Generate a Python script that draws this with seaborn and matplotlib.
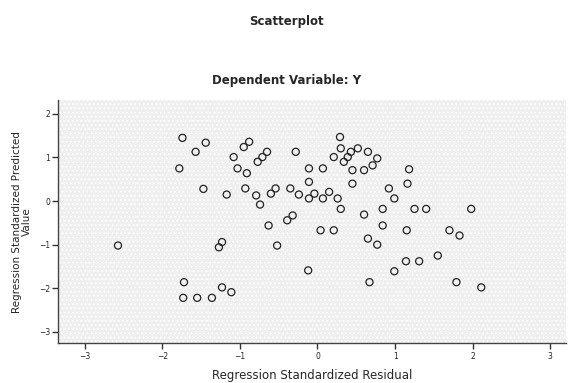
import matplotlib

matplotlib.use("Agg")
import matplotlib.pyplot as plt
import pandas as pd
import seaborn as sns
from matplotlib.patches import Rectangle

# Regression standardized residual (x) and predicted value (y)
residual = [
    -1.74, -1.44, -1.57, -1.78, -1.47, -1.17, -1.08, -0.95, -0.88, -0.77,
    -0.71, -0.65, -1.03, -0.91, -0.93, -0.79, -0.74, -0.60, -0.54, -0.35,
    -0.24, -0.11, -0.04, 0.07, 0.15, -0.11, -0.11, 0.07, -0.28, -0.63,
    -0.32, -0.39, 0.04, -2.57, -1.23, -1.27, -0.52, 0.29, 0.30, 0.43,
    0.52, 0.65, 0.39, 0.21, 0.77, 0.71, 0.60, 0.45, 0.34, 1.18,
    0.45, 1.16, 0.92, 0.99, 0.26, 0.30, 0.60, 0.84, 1.25, 1.40,
    1.98, 0.84, 0.21, 1.15, 1.70, 1.83, 0.65, 0.77, 1.55, 1.14,
    1.31, -0.12, 0.99, 0.67, 1.79, 2.11, -1.72, -1.23, -1.11, -1.73,
    -1.55, -1.36,
]
predicted = [
    1.45, 1.34, 1.13, 0.75, 0.28, 0.15, 1.01, 1.24, 1.36, 0.90,
    1.01, 1.13, 0.75, 0.64, 0.29, 0.13, -0.08, 0.17, 0.29, 0.29,
    0.15, 0.06, 0.17, 0.06, 0.21, 0.44, 0.75, 0.75, 1.13, -0.56,
    -0.33, -0.44, -0.67, -1.02, -0.94, -1.06, -1.02, 1.47, 1.21, 1.13,
    1.21, 1.13, 1.01, 1.01, 0.98, 0.82, 0.71, 0.71, 0.90, 0.73,
    0.40, 0.40, 0.29, 0.06, 0.06, -0.18, -0.31, -0.18, -0.18, -0.18,
    -0.18, -0.56, -0.67, -0.67, -0.67, -0.79, -0.86, -1.00, -1.25, -1.38,
    -1.38, -1.59, -1.61, -1.86, -1.86, -1.98, -1.86, -1.98, -2.09, -2.22,
    -2.22, -2.22,
]
x_ticks = [-3, -2, -1, 0, 1, 2, 3]
y_ticks = [-3, -2, -1, 0, 1, 2]

df = pd.DataFrame({"residual": residual, "predicted": predicted})

sns.set_style("white")
plt.rcParams["font.family"] = ["DejaVu Sans"]
plt.rcParams["hatch.linewidth"] = 0.8

fig = plt.figure(figsize=(5.71, 3.83), dpi=100)
ax = fig.add_axes([0.102, 0.104, 0.889, 0.635])
ax.set_facecolor("#efefef")

# dotted SPSS-style background
ax.add_patch(Rectangle((0, 0), 1, 1, transform=ax.transAxes, facecolor="none",
                       edgecolor="white", hatch="....", linewidth=0, zorder=0))

sns.scatterplot(data=df, x="residual", y="predicted", ax=ax, s=26,
                facecolor="none", edgecolor="#222222", linewidth=0.9, zorder=3)

ax.set_xlim(-3.34, 3.2)
ax.set_ylim(-3.26, 2.32)
ax.set_xticks(x_ticks)
ax.set_yticks(y_ticks)
ax.tick_params(axis="both", labelsize=5.5, length=4, width=1, color="#333333",
               direction="out", bottom=True, left=True, pad=2)

for side in ["top", "right"]:
    ax.spines[side].set_visible(False)
for side in ["left", "bottom"]:
    ax.spines[side].set_color("#444444")
    ax.spines[side].set_linewidth(1.0)

ax.set_xlabel("Regression Standardized Residual", fontsize=8.5, labelpad=6)
ax.set_ylabel("Regression Standardized Predicted\nValue", fontsize=7.5,
              labelpad=5, linespacing=1.0)

fig.text(0.502, 0.945, "Scatterplot", ha="center", va="center",
         fontsize=8.5, fontweight="bold")
fig.text(0.502, 0.79, "Dependent Variable: Y", ha="center", va="center",
         fontsize=8.5, fontweight="bold")

fig.savefig("out.png", dpi=100)
plt.close(fig)
